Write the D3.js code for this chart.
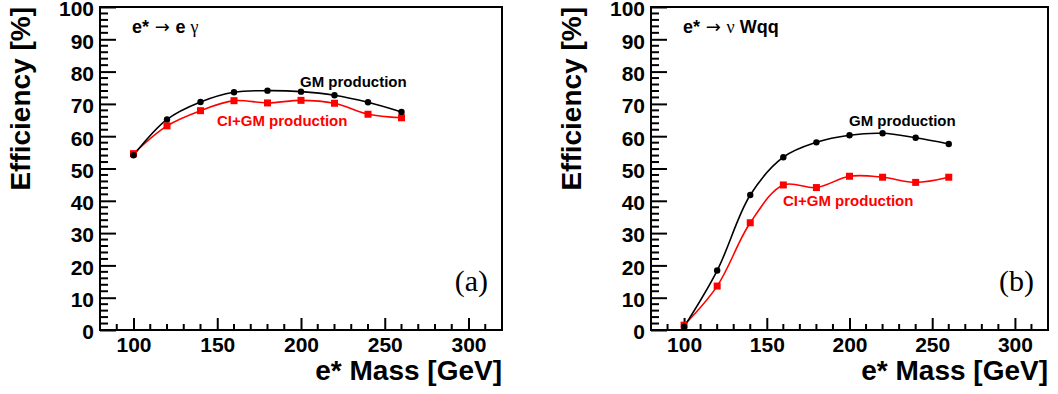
<!DOCTYPE html>
<html><head><meta charset="utf-8">
<script src="https://cdn.jsdelivr.net/npm/d3@7"></script>
<style>
html,body{margin:0;padding:0;background:#fff;}
svg{display:block;}
</style>
</head><body>
<svg id="c" width="1058" height="394"></svg>
<script>
const masses = [100,120,140,160,180,200,220,240,260];
const egammaGM   = [54.1,65.2,70.6,73.6,74.1,73.8,72.7,70.5,67.5];
const egammaCIGM = [54.6,63.2,67.9,71.0,70.3,71.1,70.2,66.8,65.7];
const wqqGM      = [1.0,18.4,41.8,53.5,58.1,60.3,60.9,59.5,57.6];
const wqqCIGM    = [1.5,13.6,33.2,44.9,44.1,47.6,47.3,45.7,47.3];
const xTicks = [100,150,200,250,300];
const yTicks = [0,10,20,30,40,50,60,70,80,90,100];
const xDomain = [80,320];
const yDomain = [0,100];

const svg = d3.select("#c");
const SANS = "'Liberation Sans', Arial, Helvetica, sans-serif";
const SERIF = "'Liberation Serif', 'Times New Roman', serif";
const ARROW = "'DejaVu Sans', sans-serif";

const panels = [
  {left:100, right:502, gm:egammaGM, ci:egammaCIGM, tag:"(a)",
   ann:[{t:"e*",f:SANS,w:"bold"},{t:" \u2192 ",f:ARROW,w:"normal"},{t:"e ",f:SANS,w:"bold"},{t:"\u03B3",f:SERIF,w:"normal"}],
   gmLab:{x:300,y:87}, ciLab:{x:217,y:126}},
  {left:651, right:1048, gm:wqqGM, ci:wqqCIGM, tag:"(b)",
   ann:[{t:"e*",f:SANS,w:"bold"},{t:" \u2192 ",f:ARROW,w:"normal"},{t:"\u03BD",f:SERIF,w:"normal"},{t:" Wqq",f:SANS,w:"bold"}],
   gmLab:{x:849,y:126}, ciLab:{x:783,y:206}}
];
const frameTop = 7, frameBottom = 330;

panels.forEach(p => {
  const x = d3.scaleLinear().domain(xDomain).range([p.left, p.right]);
  const y = d3.scaleLinear().domain(yDomain).range([frameBottom, frameTop]);
  const g = svg.append("g");

  g.append("rect").attr("x",p.left).attr("y",frameTop).attr("width",p.right-p.left).attr("height",frameBottom-frameTop)
    .attr("fill","none").attr("stroke","#000").attr("stroke-width",2);

  const xMinor = d3.range(90, 320, 10).filter(v => v % 50 !== 0);
  g.selectAll(".xmin").data(xMinor).enter().append("line")
    .attr("x1",d=>x(d)).attr("x2",d=>x(d)).attr("y1",frameBottom).attr("y2",frameBottom-6)
    .attr("stroke","#000").attr("stroke-width",2);
  const yMinor = d3.range(2, 100, 2).filter(v => v % 10 !== 0);
  g.selectAll(".ymin").data(yMinor).enter().append("line")
    .attr("x1",p.left).attr("x2",p.left+8).attr("y1",d=>y(d)).attr("y2",d=>y(d))
    .attr("stroke","#000").attr("stroke-width",2);

  const xAxis = d3.axisBottom(x).tickValues(xTicks).tickSize(-12).tickPadding(20).tickFormat(d3.format("d"));
  const gx = g.append("g").attr("transform",`translate(0,${frameBottom})`).call(xAxis);
  gx.select(".domain").remove();
  gx.selectAll(".tick line").attr("stroke","#000").attr("stroke-width",2);
  gx.selectAll(".tick text").attr("font-family",SANS).attr("font-weight","bold").attr("font-size",21)
    .attr("fill","#000").attr("y",0).attr("dy","22");

  const yAxis = d3.axisLeft(y).tickValues(yTicks).tickSize(-16).tickPadding(6).tickFormat(d3.format("d"));
  const gy = g.append("g").attr("transform",`translate(${p.left},0)`).call(yAxis);
  gy.select(".domain").remove();
  gy.selectAll(".tick line").attr("stroke","#000").attr("stroke-width",2);
  gy.selectAll(".tick text").attr("font-family",SANS).attr("font-weight","bold").attr("font-size",21)
    .attr("fill","#000").attr("x",-6).attr("dy","0.42em");

  g.append("text").attr("transform",`translate(${p.left-70},${frameTop}) rotate(-90)`)
    .attr("text-anchor","end").attr("font-family",SANS).attr("font-weight","bold").attr("font-size",28)
    .text("Efficiency [%]");
  g.append("text").attr("x",p.right).attr("y",380).attr("text-anchor","end")
    .attr("font-family",SANS).attr("font-weight","bold").attr("font-size",28)
    .text("e* Mass [GeV]");

  const line = d3.line().x((d,i)=>x(masses[i])).y(d=>y(d)).curve(d3.curveCatmullRom.alpha(0.5));
  g.append("path").attr("d",line(p.ci)).attr("fill","none").attr("stroke","#ff0000").attr("stroke-width",1.6);
  g.append("path").attr("d",line(p.gm)).attr("fill","none").attr("stroke","#000").attr("stroke-width",1.6);

  g.selectAll(".sq").data(p.ci).enter().append("rect")
    .attr("x",(d,i)=>x(masses[i])-3.5).attr("y",d=>y(d)-3.5).attr("width",7).attr("height",7).attr("fill","#ff0000");
  g.selectAll(".dot").data(p.gm).enter().append("circle")
    .attr("cx",(d,i)=>x(masses[i])).attr("cy",d=>y(d)).attr("r",3.2).attr("fill","#000");

  g.append("text").attr("x",p.gmLab.x).attr("y",p.gmLab.y).attr("font-family",SANS).attr("font-weight","bold")
    .attr("font-size",15).attr("fill","#000").text("GM production");
  g.append("text").attr("x",p.ciLab.x).attr("y",p.ciLab.y).attr("font-family",SANS).attr("font-weight","bold")
    .attr("font-size",15).attr("fill","#ff0000").text("CI+GM production");

  const ann = g.append("text").attr("x",p.left+32).attr("y",33).attr("font-size",18).attr("fill","#000");
  p.ann.forEach(s => ann.append("tspan").attr("font-family",s.f).attr("font-weight",s.w).text(s.t));

  g.append("text").attr("x",p.right-14).attr("y",291).attr("text-anchor","end")
    .attr("font-family",SERIF).attr("font-size",30).attr("fill","#000").text(p.tag);
});
</script>
</body></html>
